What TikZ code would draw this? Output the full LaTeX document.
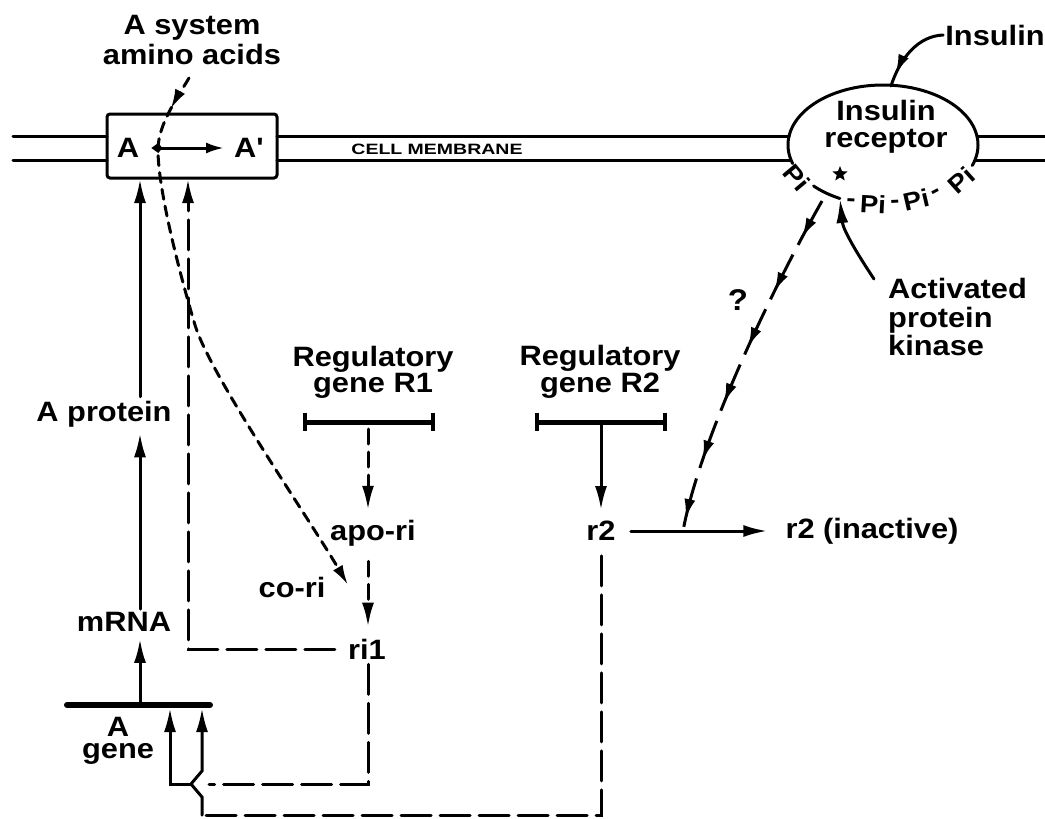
\documentclass[tikz,border=0pt]{standalone}
\usepackage{fontspec}
\newfontfamily\dfont{Liberation Sans}[FakeStretch=1.1]
\newfontfamily\cmfont{Liberation Sans}[FakeStretch=1.3]
\usetikzlibrary{arrows.meta,decorations.markings,shapes.geometric}

\tikzset{
  lbl/.style={font=\dfont\bfseries\fontsize{28}{27}\selectfont, inner sep=0pt, align=center},
  pilbl/.style={font=\dfont\bfseries\fontsize{25}{25}\selectfont, inner sep=0pt},
  ln/.style={line width=3pt, line cap=round},
  head/.tip={Latex[length=24pt,width=12pt]},
  smallhead/.tip={Latex[length=20pt,width=11pt]},
  arr/.style={-head},
  ldash/.style={dash pattern=on 30pt off 9pt},
  mdash/.style={dash pattern=on 15pt off 8pt},
  sdash/.style={dash pattern=on 10pt off 7pt},
  genebar/.style={line width=5pt},
  bartick/.style={line width=3.2pt},
}

\begin{document}
\begin{tikzpicture}[x=1pt,y=-1pt]
\fill[white] (0,0) rectangle (1045,819);
\useasboundingbox (0,0) rectangle (1045,819);

% ---------- cell membrane with the A system carrier ----------
\node[draw, line width=3pt, rounded corners=3pt, minimum width=170pt,
      minimum height=64pt, inner sep=0pt] (box) at (192,146) {};
\draw[ln] (13,136) -- (107,136) (13,160) -- (107,160);
\draw[ln] (277,136) -- (789,136) (277,160) -- (791,160);
\draw[ln] (977,136) -- (1045,136) (975,160) -- (1045,160);
\node[font=\cmfont\bfseries\fontsize{15}{15}\selectfont, inner sep=0pt] (cm) at (437,149) {CELL MEMBRANE};

\node[lbl] (a1) at (128,148) {A};
\node[lbl] (a2) at (249,148) {A'};
\draw[line width=3pt, {Kite[length=11pt,width=10pt,inset=4pt]}-{Latex[length=18pt,width=11pt]},
      shorten <=12pt, shorten >=10pt] (a1) -- (a2);

% ---------- insulin receptor ----------
\draw[ln] plot[domain=162:380, samples=100] ({883+95*cos(\x)}, {145+60*sin(\x)});
\draw[ln] plot[domain=117:137, samples=20] ({883+95*cos(\x)}, {145+60*sin(\x)});
\node[lbl] (rec) at (886,127) {Insulin\\receptor};
\node[star, star points=5, star point ratio=2.3, fill=black, inner sep=0pt,
      minimum size=16pt] (st) at (840,174) {};
\node[pilbl, rotate=-50] (pa) at (797,178) {Pi};
\node[pilbl, rotate=-3] (h1) at (851,203) {-};
\node[pilbl, rotate=-3] (pb) at (873,204) {Pi};
\node[pilbl, rotate=3] (h2) at (895,204) {-};
\node[pilbl, rotate=13] (pc) at (916,200) {Pi};
\node[pilbl, rotate=28] (h3) at (937,194) {-};
\node[pilbl, rotate=42] (pd) at (961,180) {Pi};

\node[lbl] (ins) at (995,35) {Insulin};
\coordinate (rtop) at (891,86);
\draw[ln, postaction=decorate, decoration={markings,
      mark=at position 0.84 with {\arrow{smallhead}}}]
  ([xshift=-2pt]ins.west) .. controls (918,36) and (900,58) .. (rtop);

\node[lbl, align=left, anchor=west, font=\dfont\bfseries\fontsize{28}{28.5}\selectfont]
  (kin) at (888,317) {Activated\\protein\\kinase};
\coordinate (kf) at (874,279);
\coordinate (kt) at (840,199);
\draw[ln, arr] (kf) .. controls (858,255) and (843,230) .. (kt);

% ---------- signal from the receptor ----------
\coordinate (rq) at (822,201);
\coordinate (rj) at (683,531);
\draw[ln, line cap=butt, dash pattern=on 50pt off 11pt, postaction=decorate, decoration={markings,
      mark=at position 42pt with {\arrow{smallhead}},
      mark=at position 103pt with {\arrow{smallhead}},
      mark=at position 164pt with {\arrow{smallhead}},
      mark=at position 225pt with {\arrow{smallhead}},
      mark=at position 286pt with {\arrow{smallhead}},
      mark=at position 347pt with {\arrow{smallhead}}}]
  (rq) .. controls (770,293) and (700,440) .. (rj);
\node[lbl, font=\dfont\bfseries\fontsize{30}{30}\selectfont] (q) at (738,300) {?};

% ---------- amino acids entering ----------
\node[lbl, font=\dfont\bfseries\fontsize{28}{30}\selectfont] (aa) at (192,40) {A system\\amino acids};
\coordinate (aas) at (189,78);
\coordinate (cre) at (348,585);
\draw[ln, sdash, -smallhead, postaction=decorate, decoration={markings,
      mark=at position 36pt with {\arrow{smallhead}}}]
  (aas) .. controls (176,100) and (158,125) .. (158,150)
        .. controls (158,190) and (180,275) .. (195,325)
        .. controls (210,375) and (310,520) .. (cre);
\node[lbl] (cori) at (292,587) {co-ri};

% ---------- A gene expression ----------
\node[lbl] (ap) at (104,414) {A protein};
\node[lbl] (mr) at (124,622) {mRNA};
\node[lbl, font=\dfont\bfseries\fontsize{28}{22}\selectfont] (ag) at (118,741) {A\\gene};
\draw[line width=6pt, line cap=round] (67,705) -- (210,705);
\coordinate (gbar) at (140,705);
\coordinate (bxl) at (140,179);
\coordinate (bxr) at (188,179);
\draw[ln, arr, shorten <=4pt] (ap.north -| bxl) -- (bxl);
\draw[ln, arr, shorten <=3pt, shorten >=6pt] (mr.north -| bxl) -- (ap.south -| bxl);
\draw[ln, arr, shorten >=7pt] (gbar) -- (mr.south -| gbar);

% ---------- regulatory gene R1 ----------
\node[lbl, font=\dfont\bfseries\fontsize{28}{25}\selectfont] (R1) at (373,372) {Regulatory\\gene R1};
\draw[genebar] (305,422) -- (433,422);
\draw[bartick] (305,413) -- (305,431) (433,413) -- (433,431);
\coordinate (g1) at (368,422);
\node[lbl] (apo) at (373,533) {apo-ri};
\node[lbl] (ri1) at (367,649) {ri1};
\draw[ln, mdash, arr, shorten <=7pt, shorten >=10pt] (g1) -- (g1 |- apo.north);
\draw[ln, mdash, arr, shorten <=15pt, shorten >=12pt] (apo.south -| g1) -- (ri1.north -| g1);
\draw[ln, ldash, arr, shorten <=13pt] (ri1.west) -| (bxr);

\coordinate (hopr) at (209,784);
\coordinate (hopl) at (191,784);
\coordinate (ga1) at (170,708);
\coordinate (ga2) at (202,708);
\draw[ln, ldash, shorten <=5pt] (ri1.south -| g1) |- (hopr);
\draw[ln, arr] (hopl) -| (ga1);

% ---------- regulatory gene R2 ----------
\node[lbl, font=\dfont\bfseries\fontsize{28}{25}\selectfont] (R2) at (600,372) {Regulatory\\gene R2};
\draw[genebar] (537,422) -- (665,422);
\draw[bartick] (537,413) -- (537,431) (665,413) -- (665,431);
\coordinate (g2) at (601,422);
\node[lbl] (r2) at (601,531) {r2};
\node[lbl] (r2i) at (872,531) {r2 (inactive)};
\draw[ln, arr, shorten >=11pt] (g2) -- (g2 |- r2.north);
\draw[ln, arr, shorten <=15pt, shorten >=18pt] (r2) -- (r2i);

\coordinate (cb) at (202,815);
\draw[ln, ldash, shorten <=15pt] (r2.south) |- (cb);
\draw[ln, arr] (cb) -- (202,797) -- (191,784) -- (202,771) -- (ga2);
\end{tikzpicture}
\end{document}
